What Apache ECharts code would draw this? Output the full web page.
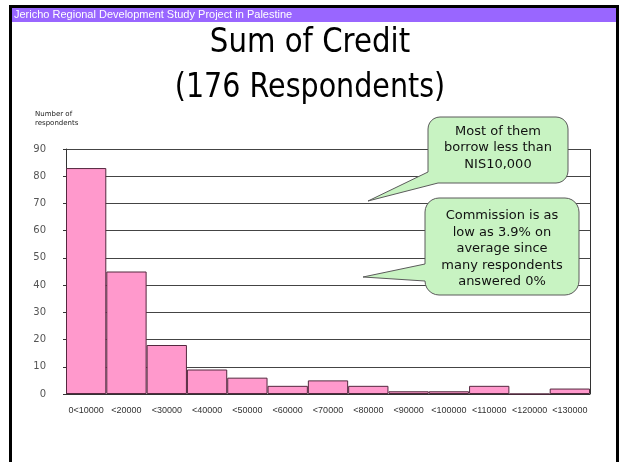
<!DOCTYPE html>
<html>
<head>
<meta charset="utf-8">
<script src="https://cdn.jsdelivr.net/npm/echarts@6/dist/echarts.min.js"></script>
<style>
  html, body { margin: 0; padding: 0; background: #fff; }
  #chart { width: 620px; height: 462px; }
</style>
</head>
<body>
<div id="chart"></div>
<script>
// credit bands (NIS) and number of respondents per band
const categories = ["0<10000", "<20000", "<30000", "<40000", "<50000", "<60000", "<70000",
  "<80000", "<90000", "<100000", "<110000", "<120000", "<130000"];
const respondents = [83, 45, 18, 9, 6, 3, 5, 3, 1, 1, 3, 0, 2];
const yTicks = { min: 0, max: 90, interval: 10 };

const headerText = "Jericho Regional Development Study Project in Palestine";
const titleLines = ["Sum of Credit", "(176 Respondents)"];
const note1 = "Most of them\nborrow less than\nNIS10,000";
const note2 = "Commission is as\nlow as 3.9% on\naverage since\nmany respondents\nanswered 0%";

const chart = echarts.init(document.getElementById("chart"));

// rounded box outline with a tail, as polygon points
function bubble(x0, y0, x1, y1, r, tailSide, tail) {
  const pts = [];
  const arc = (cx, cy, a0, a1) => {
    for (let i = 0; i <= 6; i++) {
      const a = a0 + (a1 - a0) * i / 6;
      pts.push([cx + r * Math.cos(a), cy + r * Math.sin(a)]);
    }
  };
  const P = Math.PI;
  arc(x0 + r, y0 + r, P, 1.5 * P);        // top-left
  arc(x1 - r, y0 + r, 1.5 * P, 2 * P);    // top-right
  arc(x1 - r, y1 - r, 0, 0.5 * P);        // bottom-right
  if (tailSide === "bottom-left") tail.forEach(p => pts.push(p));
  else arc(x0 + r, y1 - r, 0.5 * P, P);   // bottom-left
  if (tailSide === "left") tail.forEach(p => pts.push(p));
  return pts;
}

const bubbleStyle = { fill: "#c8f3c2", stroke: "#5a5a5a", lineWidth: 1 };
const noteFont = { fontFamily: "DejaVu Sans", fontSize: 13, lineHeight: 16.5, fill: "#111", align: "center", verticalAlign: "middle" };

const option = {
  animation: false,
  grid: { left: 66, right: 30, top: 149, bottom: 68 },
  xAxis: {
    type: "category",
    data: categories,
    axisLine: { lineStyle: { color: "#333", width: 1 } },
    axisTick: { show: false },
    axisLabel: {
      interval: 0,
      margin: 12,
      color: "#333",
      fontFamily: "Liberation Sans Narrow, Liberation Sans",
      fontSize: 9,
    },
  },
  yAxis: {
    type: "value",
    min: yTicks.min,
    max: yTicks.max,
    interval: yTicks.interval,
    axisLine: { show: true, lineStyle: { color: "#333", width: 1 } },
    axisTick: { show: true, length: 3, lineStyle: { color: "#333" } },
    axisLabel: { margin: 20, color: "#555", fontFamily: "DejaVu Sans", fontSize: 10 },
    splitLine: { lineStyle: { color: "#444", width: 1 } },
  },
  series: [
    {
      type: "bar",
      data: respondents,
      barCategoryGap: "0%",
      itemStyle: { color: "#ff99cc", borderColor: "#55283f", borderWidth: 1 },
    },
  ],
  graphic: [
    // right border of plot
    { type: "line", shape: { x1: 590.5, y1: 149, x2: 590.5, y2: 394 },
      style: { stroke: "#333", lineWidth: 1 }, z: 50 },
    // slide frame
    { type: "rect", shape: { x: 10.5, y: 6.5, width: 607, height: 470 },
      style: { fill: "none", stroke: "#000", lineWidth: 3 }, z: 100 },
    { type: "rect", shape: { x: 12, y: 8, width: 604, height: 14 },
      style: { fill: "#9966ff" }, z: 101 },
    { type: "text", x: 14, y: 15, z: 102,
      style: { text: headerText, fill: "#fff", fontFamily: "Liberation Sans", fontSize: 11, verticalAlign: "middle" } },
    // title
    { type: "text", x: 310, y: 43, scaleX: 0.86, z: 102,
      style: { text: titleLines[0], fill: "#000", fontFamily: "DejaVu Sans", fontSize: 34, align: "center", verticalAlign: "middle" } },
    { type: "text", x: 310, y: 88, scaleX: 0.84, z: 102,
      style: { text: titleLines[1], fill: "#000", fontFamily: "DejaVu Sans", fontSize: 34, align: "center", verticalAlign: "middle" } },
    // y axis name
    { type: "text", x: 35, y: 110, z: 102,
      style: { text: "Number of\nrespondents", fill: "#222", fontFamily: "DejaVu Sans", fontSize: 7, lineHeight: 9 } },
    // callout 1
    { type: "polygon", z: 110,
      shape: { points: bubble(428, 117, 568, 183, 12, "bottom-left", [[438, 183], [368, 201], [428, 172]]) },
      style: bubbleStyle },
    { type: "text", x: 498, y: 148, z: 111, style: Object.assign({ text: note1 }, noteFont) },
    // callout 2
    { type: "polygon", z: 110,
      shape: { points: bubble(425, 198, 579, 295, 14, "left", [[425, 281], [363, 277], [425, 264]]) },
      style: bubbleStyle },
    { type: "text", x: 502, y: 249, z: 111, style: Object.assign({ text: note2 }, noteFont) },
  ],
};

chart.setOption(option);
</script>
</body>
</html>
